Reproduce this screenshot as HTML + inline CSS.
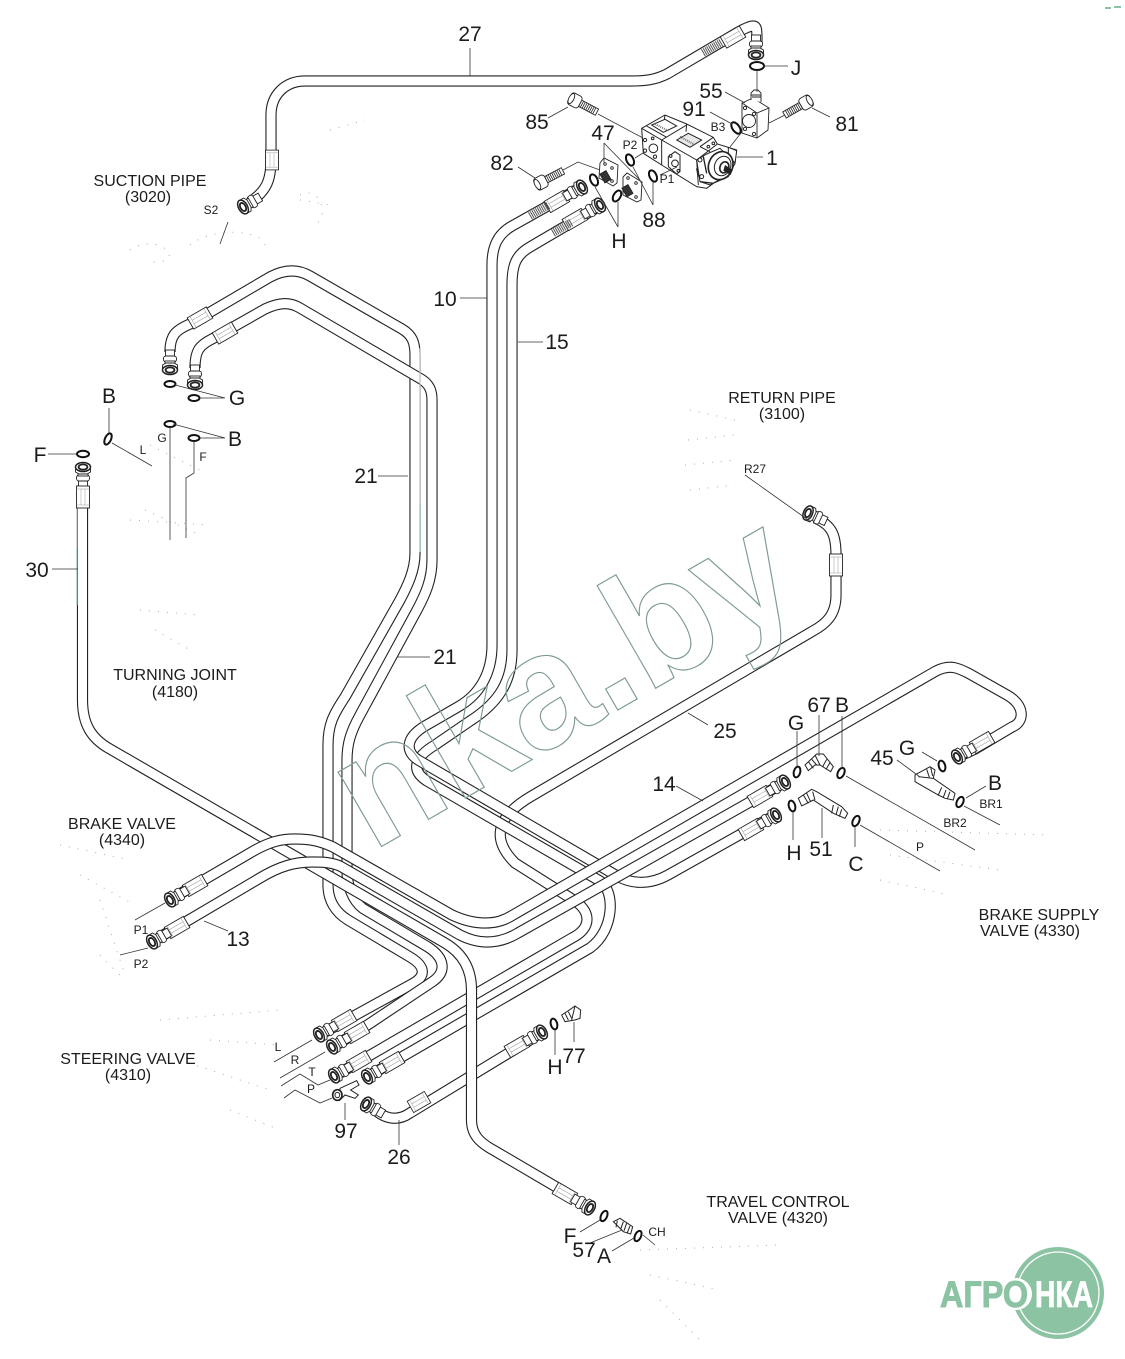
<!DOCTYPE html>
<html><head><meta charset="utf-8"><title>Hydraulic piping diagram</title>
<style>
html,body{margin:0;padding:0;background:#fff}
svg{display:block}
text{font-family:"Liberation Sans",sans-serif;fill:#1c1c1c;text-anchor:middle}
.n{font-size:21px}
.s{font-size:12px}
.t{font-size:16px}
.o{fill:none;stroke:#222;stroke-width:11.2}
.i{fill:none;stroke:#fff;stroke-width:9}
.l{fill:none;stroke:#333;stroke-width:.8}
.g{fill:none;stroke:#888;stroke-width:.8}
.r{fill:#fff;stroke:#111;stroke-width:2}
.d{fill:none;stroke:#9fb0aa;stroke-width:1;stroke-dasharray:1 8}
.f{fill:#fff;stroke:#222;stroke-width:.9}
.z{fill:#fff;stroke:#222;stroke-width:3}
.h{stroke:#555;stroke-width:8;stroke-dasharray:1 1;fill:none}
</style></head><body>
<svg width="1125" height="1359" viewBox="0 0 1125 1359" xmlns="http://www.w3.org/2000/svg">
<defs>
<g id="sl" class="f"><rect x="-11" y="-6.5" width="22" height="13"/><path d="M-8,-6.5v13M8,-6.5v13M-8,-2h16M-8,2h16" stroke="#999" stroke-width=".5" fill="none"/></g>
<g id="hn" class="f"><rect x="13" y="-4.5" width="7" height="9"/><rect x="8" y="-6.5" width="6" height="13" rx="2.5"/><rect x="3" y="-5" width="6" height="10"/><path d="M0,-7.5L5,-7.5L7,-4L7,4L5,7.5L0,7.5Z"/><ellipse rx="4.5" ry="7.5" stroke-width="1.5"/><ellipse rx="2.6" ry="4.4" stroke-width="1.8"/></g>
<g id="hf"><use href="#sl" x="29"/><use href="#hn"/></g>
<g id="bt" class="f"><rect x="7" y="-3.5" width="19" height="7"/><path d="M9,-3.5v7M11,-3.5v7M13,-3.5v7M15,-3.5v7M17,-3.5v7M19,-3.5v7M21,-3.5v7M23,-3.5v7" stroke="#222" stroke-width=".8"/><rect x="-5" y="-6.5" width="12" height="13" rx="3"/><ellipse cx="-3" rx="2.5" ry="5.5"/></g>
<path id="p21a" d="M170,352C170,335 176,330 190,324L270,277C285,269 298,269 310,276L402,329C412,335 415,342 415,355L415,553C415,570 408,585 400,600L345,697C333,715 328,725 328,745L328,885C328,900 335,912 348,920L410,957C425,966 427,976 412,984L343,1022L325,1032"/>
<path id="p21b" d="M195,368C195,350 200,345 212,339L265,309C280,302 290,302 300,308L421,379C429,384 432,390 432,400L432,560C432,580 425,595 417,610L360,715C350,733 347,745 347,760L347,870C347,885 352,900 363,908.5L428,947C445,958 447,972 432,982L357,1032L338,1044"/>
<path id="p25" d="M815,518C832,525 836,535 836,555L836,595C836,615 826,624 812,631.5L530,797C495,818 492,840 515,863L572,899C592,911 592,928 572,938L367,1057L340,1073"/>
<path id="p15" d="M598,207L530,247C516,255 512,265 512,285L512,650C512,680 500,702 470,721L435,745C415,757 410,770 427,781L600,881C615,890 615,930 590,948L400,1058L372,1074"/>
<path id="p10" d="M578,189L512,226C498,234 492,246 492,265L492,645C492,675 478,695 459.5,706L425,726C405,738 405,752 419,760.5L618,876.5C632,884 650,885 668,875L757,825L772,817"/>
<path id="p30" d="M82.5,500L82.5,700C82.5,725 92,739 110,749L445,943C462,953 471.5,968 471.5,990L471.5,1120C471.5,1135 480,1143 495,1151L575,1198"/>
<path id="p2" d="M160,937L260,878C280,866 295,862 312,862C322,862 330,862 340,866L460,935C470,940 478,942 487,942C498,942 508,939 518,933L780,785"/>
<path id="p1" d="M178,895L250,853C270,841 282,839 295,839C310,839 320,841 333,847L452,915C465,921 475,923 485,923C497,923 505,920 513,915L936,671C950,664 958,668 968,673L1007,695C1025,705 1025,722 1012,727L975,749L962,755"/>
<path id="p27" d="M250,202C265,192 271,182 271,160L271,115C271,95 285,81 305,81L630,81C645,81 655,80 667,74L735,34C745,28 750,26 753,26C757,26 757,30 757,42"/>
<path id="p26" d="M375,1110C388,1121 400,1120 410,1113L530,1040L537,1035"/>
</defs>

<!-- faint ghost dots -->
<path class="d" d="M130,250C160,230 190,265 150,262M190,245C215,225 270,230 265,250M300,200L330,205M330,130L365,120M300,195C320,185 330,215 315,225M690,410L735,420M688,440L735,435M685,465L735,460M690,490L735,485M150,445L200,470M130,520L210,525M145,510L200,535M140,610L200,615M155,630L190,650M60,845L130,860M80,875L135,905M100,900L125,975M100,955L120,975M160,1020L280,1010M210,1040L280,1045M180,1060L270,1090M230,1110L280,1130M880,830L1050,835M890,855L1000,870M880,880L950,895M640,1250L780,1245M650,1275L720,1290M660,1300L700,1340"/>

<!-- pipes, bottom to top -->
<use href="#p21a" class="o"/><use href="#p21a" class="i"/>
<use href="#p21b" class="o"/><use href="#p21b" class="i"/>
<use href="#p25" class="o"/><use href="#p25" class="i"/>
<use href="#p15" class="o"/><use href="#p15" class="i"/>
<use href="#p10" class="o"/><use href="#p10" class="i"/>
<use href="#p26" class="o"/><use href="#p26" class="i"/>
<use href="#p30" class="o"/><use href="#p30" class="i"/>
<use href="#p2" class="o"/><use href="#p2" class="i"/>
<use href="#p1" class="o"/><use href="#p1" class="i"/>
<use href="#p27" class="o"/><use href="#p27" class="i"/>

<!-- tinted segments -->
<path d="M77,500V549M420,348V505" stroke="#bbb" stroke-width="1.2" fill="none"/>
<path d="M77,549V605M420,505V552" stroke="#8bc3a3" stroke-width="1.2" fill="none"/>

<!-- fittings -->
<use href="#hf" transform="translate(170,900) rotate(-30)"/>
<use href="#hf" transform="translate(152,942) rotate(-30)"/>
<use href="#hf" transform="translate(319,1035) rotate(-30)"/>
<use href="#hf" transform="translate(332,1047) rotate(-30)"/>
<use href="#hf" transform="translate(334,1076) rotate(-30)"/>
<use href="#hf" transform="translate(367,1077) rotate(-30)"/>
<use href="#hf" transform="translate(542,1032) rotate(150)"/>
<use href="#hf" transform="translate(590,1208) rotate(210)"/>
<use href="#hf" transform="translate(785,782) rotate(150)"/>
<use href="#hf" transform="translate(776,815) rotate(150)"/>
<use href="#hf" transform="translate(957,757) rotate(-30)"/>
<use href="#hf" transform="translate(582,187) rotate(150)"/>
<use href="#hf" transform="translate(600,205) rotate(150)"/>
<use href="#hn" transform="translate(170,370) rotate(-90)"/>
<use href="#sl" transform="translate(200,318) rotate(-30)"/>
<use href="#hn" transform="translate(195,385) rotate(-90)"/>
<use href="#sl" transform="translate(225,333) rotate(-30)"/>
<use href="#hn" transform="translate(83,467) rotate(90)"/>
<use href="#sl" transform="translate(83,497) rotate(90)"/>
<use href="#sl" transform="translate(272,160) rotate(90) scale(.9,1)"/>
<use href="#hn" transform="translate(243,207) rotate(-30)"/>
<use href="#hn" transform="translate(756,55) rotate(-90)"/>
<use href="#sl" transform="translate(733,37) rotate(-30)"/>
<use href="#hn" transform="translate(808,513) rotate(25)"/>
<use href="#sl" transform="translate(836,565) rotate(90)"/>
<use href="#hn" transform="translate(366,1104) rotate(30)"/>
<use href="#sl" transform="translate(419,1102) rotate(-30) scale(.9,1)"/>
<path class="h" d="M530,216L549,205M553,233L572,222M703,53L722,42"/>

<!-- pump, drawn in 3x crop coordinates -->
<g transform="translate(480,0) scale(.33333)">
<g class="z">
<path d="M485,385L555,345L620,372L700,412L712,432L770,450L765,490L745,530L700,550L680,565L650,560L545,495L490,460Z"/>
<path fill="none" d="M485,385L545,420L545,495M545,420L620,375M545,420L650,480L655,555M650,480L712,432M500,378L560,412M555,345L552,365M620,372L618,395M700,412L660,440M660,440L690,455"/>
<path d="M515,375L555,358L590,378L550,397Z"/>
<path d="M590,420L625,400L665,420L630,442Z" fill="#e8e8e8"/>
<path d="M565,470L585,455L600,465L600,515L590,522L565,500Z"/>
<circle cx="520" cy="445" r="13"/><circle cx="495" cy="420" r="5"/><circle cx="495" cy="452" r="5"/><circle cx="525" cy="470" r="5"/><circle cx="518" cy="415" r="4"/>
<circle cx="585" cy="490" r="10"/><circle cx="595" cy="512" r="4"/><circle cx="572" cy="468" r="4"/>
<path d="M745,442L770,452L765,490L745,465Z"/>
<path d="M650,480L680,462L720,445L745,470L735,530L690,555L660,545Z"/>
<ellipse cx="722" cy="497" rx="36" ry="43" transform="rotate(22 722 497)" stroke-width="5"/>
<ellipse cx="728" cy="498" rx="24" ry="30" transform="rotate(22 728 498)"/>
<ellipse cx="733" cy="502" rx="13" ry="17" transform="rotate(22 733 502)" stroke-width="5"/>
<circle cx="660" cy="480" r="6"/><circle cx="665" cy="530" r="6"/><circle cx="685" cy="440" r="4"/><circle cx="700" cy="430" r="4"/>
</g>
<path d="M735,495L758,510L752,525L730,512Z" fill="#222"/>
<path d="M660,545L700,550M650,505L655,530M670,470L680,520" stroke="#222" stroke-width="4" fill="none"/>
<path d="M600,410L640,432M525,372L560,390" stroke="#777" stroke-width="6" stroke-dasharray="3 3" fill="none"/>
</g>
<!-- valve block 55 -->
<g class="f">
<path d="M742,103L753,98L769,108L768,130L757,138L742,133Z"/>
<path fill="none" d="M742,103L757,113L757,138M757,113L769,108"/>
<circle cx="749" cy="121" r="6.5"/><circle cx="745" cy="108" r="1.6"/><circle cx="754" cy="114" r="1.6"/><circle cx="745" cy="129" r="1.6"/><circle cx="754" cy="134" r="1.6"/>
<path d="M751,100L751,93L754,90L758,90L761,93L761,102"/>
<path d="M751,95h10M752,97h9" fill="none"/>
</g>
<!-- plates 47 -->
<g class="f">
<path d="M600,163L604,158L618,165L617,183L613,186L599,178Z"/>
<path d="M623,177L627,173L642,182L641,200L637,202L623,195Z"/>
<circle cx="605" cy="164" r="1.3"/><circle cx="612" cy="168" r="1.3"/><circle cx="612" cy="181" r="1.3"/>
<circle cx="628" cy="178" r="1.3"/><circle cx="636" cy="183" r="1.3"/><circle cx="636" cy="197" r="1.3"/>
<rect x="602" y="172" width="7" height="10" fill="#333" transform="rotate(-30 605 177)"/>
<rect x="624" y="186" width="7" height="10" fill="#333" transform="rotate(-30 627 191)"/>
</g>
<use href="#bt" transform="translate(574,100) rotate(28)"/>
<use href="#bt" transform="translate(807,102) rotate(150)"/>
<use href="#bt" transform="translate(540,183) rotate(-28)"/>
<!-- small fittings, brake side -->
<g transform="translate(700,650) scale(.33333)">
<g class="z">
<path d="M315,345L350,312L370,312L400,350L392,365L360,345L345,345L325,362Z"/>
<path fill="none" d="M325,335L340,355M335,328L350,345M345,315L360,345M380,328L368,350M390,338L378,358"/>
<path d="M295,445L335,418L350,425L425,470L443,490L435,505L400,490L340,450L305,468Z"/>
<path fill="none" d="M310,435L325,460M320,430L332,455M400,465L395,490M415,470L408,495M425,478L418,500M338,425L345,450"/>
<path d="M645,375L690,350L705,360L700,385L765,430L760,450L735,445L715,435L645,395Z"/>
<path fill="none" d="M680,358L688,382M692,352L698,378M725,412L715,435M738,420L730,442M750,425L742,447M655,380L700,385"/>
</g></g>
<!-- small fittings, steering side -->
<g transform="translate(260,990) scale(.33333)">
<g class="z">
<path d="M240,295L290,272L297,285L272,300L295,315L285,325L255,315L240,330Z"/>
<ellipse cx="232" cy="315" rx="14" ry="16" stroke-width="5"/><ellipse cx="232" cy="315" rx="7" ry="8"/>
<path d="M905,75L925,62L945,48L962,60L960,85L945,90L915,95Z"/>
<path fill="none" d="M945,48L935,90M915,70L925,90M925,65L935,85"/>
<path d="M1060,695L1080,685L1118,710L1112,732L1090,725Z"/>
<path fill="none" d="M1072,692L1068,712M1090,695L1082,718M1100,700L1092,722M1110,708L1102,728"/>
</g></g>

<!-- O-rings -->
<ellipse class="r" cx="757" cy="66" rx="7" ry="4"/>
<ellipse class="r" cx="736" cy="128" rx="3.5" ry="6.5" transform="rotate(-35 736 128)"/>
<ellipse class="r" cx="630" cy="160" rx="3.5" ry="6" transform="rotate(-25 630 160)"/>
<ellipse class="r" cx="653" cy="176" rx="3.5" ry="6" transform="rotate(-25 653 176)"/>
<ellipse class="r" cx="594" cy="180" rx="3.5" ry="6" transform="rotate(-25 594 180)"/>
<ellipse class="r" cx="617" cy="196" rx="3.5" ry="6" transform="rotate(30 617 196)"/>
<ellipse class="r" cx="170" cy="384" rx="5.5" ry="3"/>
<ellipse class="r" cx="194" cy="398" rx="5.5" ry="3"/>
<ellipse class="r" cx="170" cy="424" rx="5.5" ry="3"/>
<ellipse class="r" cx="194" cy="438" rx="5.5" ry="3"/>
<ellipse class="r" cx="108" cy="439" rx="3" ry="6" transform="rotate(25 108 439)"/>
<ellipse class="r" cx="83" cy="454" rx="6" ry="3.2"/>
<ellipse class="r" cx="797" cy="772" rx="3.2" ry="5.5" transform="rotate(15 797 772)"/>
<ellipse class="r" cx="841" cy="773" rx="3.2" ry="5.5" transform="rotate(25 841 773)"/>
<ellipse class="r" cx="942" cy="766" rx="3.2" ry="5.5" transform="rotate(-15 942 766)"/>
<ellipse class="r" cx="960" cy="802" rx="3.2" ry="5.5" transform="rotate(25 960 802)"/>
<ellipse class="r" cx="792" cy="806" rx="3.2" ry="5.5" transform="rotate(-15 792 806)"/>
<ellipse class="r" cx="856" cy="821" rx="3.2" ry="5.5" transform="rotate(25 856 821)"/>
<ellipse class="r" cx="554" cy="1024" rx="3.2" ry="5.5" transform="rotate(-15 554 1024)"/>
<ellipse class="r" cx="604" cy="1216" rx="3" ry="5.5" transform="rotate(25 604 1216)"/>
<ellipse class="r" cx="638" cy="1236" rx="3" ry="5.5" transform="rotate(25 638 1236)"/>

<!-- leaders -->
<path class="l" d="M763,66H788M710,112L732,124M725,92L745,103M830,117L812,108M548,118L568,107M598,114L643,138M785,115L769,123M741,133L730,147M737,157H763M518,167L535,178M563,170L578,162L600,170M604,143V163M604,143L640,180M653,205V182M653,205L633,167M618,227L595,187M618,227V202M660,175L677,167M635,158L643,153"/>
<path class="l" d="M757,70V92"/>
<path class="l" d="M470,48V76"/>
<path class="l" d="M460,298H487M518,342H543M408,476H378M397,657H430M78,569H52M688,713L708,725M676,786L703,801"/>
<path class="l" d="M109,408V433M48,454H77M112,443L152,466M175,385L225,398M200,398H225M173,424L225,438M200,438H225M170,428V540M194,441V473L186,478V538"/>
<path class="l" d="M811,522L745,475M220,244L228,222"/>
<path class="l" d="M797,731V767M819,715V756M842,716V768M846,776L975,850M793,840V812M822,838V808M855,847V827M860,825L940,871M922,752L937,761M897,760L920,777M966,798L986,786M964,806L1000,825"/>
<path class="l" d="M135,920L165,903M120,955L148,948M228,931L204,921"/>
<path class="l" d="M274,1062L312,1040M280,1078L325,1052M281,1086L300,1074L318,1085L330,1080M284,1098L295,1090L320,1103L332,1098M345,1103V1120M399,1120V1145M555,1030V1055M574,1022V1042M580,1232L600,1220M590,1243L622,1230M612,1251L634,1238M643,1235L655,1245"/>

<!-- watermark -->
<text x="372" y="852" transform="rotate(-30 372 852)" textLength="502" lengthAdjust="spacingAndGlyphs" style="font-size:163px;font-weight:700;fill:none;stroke:#7f9c92;stroke-width:1.2;text-anchor:start">nka.by</text>

<!-- labels -->
<text class="n" x="470" y="41">27</text><text class="n" x="796" y="75">J</text><text class="n" x="711" y="98">55</text><text class="n" x="694" y="116">91</text><text class="n" x="537" y="129">85</text><text class="n" x="603" y="140">47</text><text class="n" x="847" y="131">81</text><text class="n" x="772" y="165">1</text><text class="n" x="502" y="170">82</text>
<text class="s" x="718" y="131">B3</text><text class="s" x="630" y="149">P2</text><text class="s" x="667" y="183">P1</text>
<text class="n" x="654" y="227">88</text><text class="n" x="619" y="248">H</text><text class="n" x="445" y="306">10</text><text class="n" x="557" y="349">15</text>
<text class="t" x="150" y="186">SUCTION PIPE</text><text class="t" x="148" y="202">(3020)</text><text class="s" x="211" y="214">S2</text>
<text class="n" x="237" y="405">G</text><text class="n" x="109" y="403">B</text><text class="n" x="235" y="446">B</text><text class="n" x="40" y="462">F</text>
<text class="s" x="143" y="454">L</text><text class="s" x="162" y="442">G</text><text class="s" x="203" y="461">F</text>
<text class="n" x="366" y="483">21</text><text class="n" x="445" y="664">21</text><text class="n" x="37" y="577">30</text>
<text class="t" x="175" y="680">TURNING JOINT</text><text class="t" x="175" y="697">(4180)</text>
<text class="t" x="782" y="403">RETURN PIPE</text><text class="t" x="782" y="419">(3100)</text><text class="s" x="755" y="473">R27</text>
<text class="n" x="725" y="738">25</text><text class="n" x="664" y="791">14</text><text class="n" x="819" y="712">67</text><text class="n" x="842" y="712">B</text><text class="n" x="796" y="730">G</text><text class="n" x="882" y="765">45</text><text class="n" x="907" y="755">G</text><text class="n" x="995" y="790">B</text>
<text class="s" x="991" y="808">BR1</text><text class="s" x="955" y="827">BR2</text>
<text class="n" x="821" y="856">51</text><text class="n" x="794" y="860">H</text><text class="n" x="856" y="871">C</text><text class="s" x="920" y="851">P</text>
<text class="t" x="122" y="829">BRAKE VALVE</text><text class="t" x="122" y="845">(4340)</text>
<text class="s" x="141" y="934">P1</text><text class="s" x="141" y="968">P2</text><text class="n" x="238" y="946">13</text>
<text class="t" x="1039" y="920">BRAKE SUPPLY</text><text class="t" x="1030" y="936">VALVE (4330)</text>
<text class="t" x="128" y="1064">STEERING VALVE</text><text class="t" x="128" y="1080">(4310)</text>
<text class="s" x="278" y="1051">L</text><text class="s" x="295" y="1064">R</text><text class="s" x="312" y="1076">T</text><text class="s" x="311" y="1093">P</text>
<text class="n" x="574" y="1063">77</text><text class="n" x="555" y="1074">H</text><text class="n" x="346" y="1138">97</text><text class="n" x="399" y="1164">26</text>
<text class="t" x="778" y="1207">TRAVEL CONTROL</text><text class="t" x="778" y="1223">VALVE (4320)</text>
<text class="s" x="657" y="1236">CH</text><text class="n" x="570" y="1243">F</text><text class="n" x="584" y="1257">57</text><text class="n" x="604" y="1263">A</text>

<!-- logo -->
<circle cx="1058" cy="1293" r="46" fill="#8bc3a3"/>
<circle cx="1058" cy="1293" r="41" fill="none" stroke="#fff" stroke-width="1.3"/>
<circle cx="1016" cy="1294" r="16" fill="#fff"/>
<text x="940" y="1307" textLength="88" lengthAdjust="spacingAndGlyphs" style="font-size:37px;font-weight:700;fill:#8bc3a3;stroke:#8bc3a3;stroke-width:1;text-anchor:start">АГРО</text>
<text x="1035" y="1307" textLength="58" lengthAdjust="spacingAndGlyphs" style="font-size:37px;font-weight:700;fill:#fff;stroke:#fff;stroke-width:.8;text-anchor:start">НКА</text>
<!-- corner mark -->
<path d="M1105,8h6M1114,7h7" stroke="#8bc3a3" stroke-width="2"/>
</svg>
</body></html>
